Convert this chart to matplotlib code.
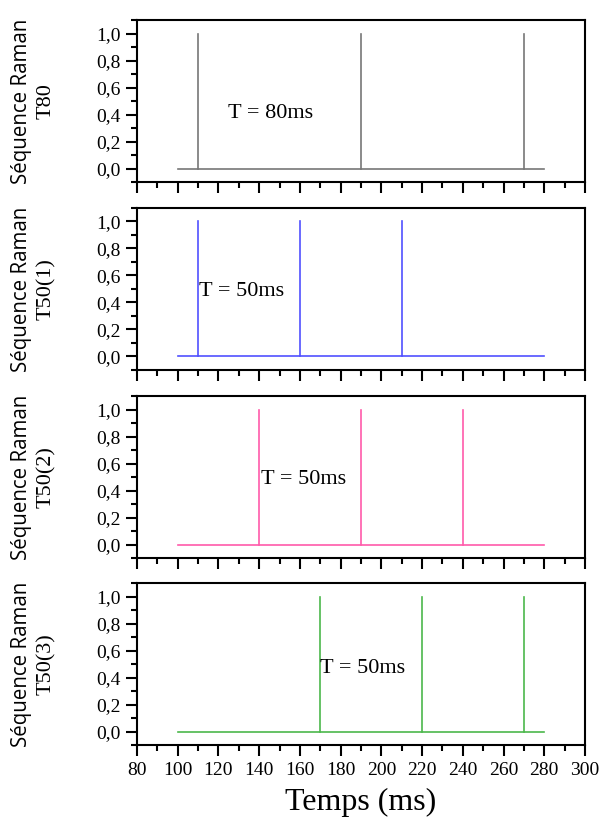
import matplotlib
matplotlib.use("Agg")
import matplotlib.pyplot as plt
from matplotlib.ticker import MultipleLocator, FuncFormatter

# data
t_start, t_end = 100, 280
labels = ["T80", "T50(1)", "T50(2)", "T50(3)"]
pulses_t80 = [110, 190, 270]
pulses_t50_1 = [110, 160, 210]
pulses_t50_2 = [140, 190, 240]
pulses_t50_3 = [170, 220, 270]
periods = ["T = 80ms", "T = 50ms", "T = 50ms", "T = 50ms"]
text_pos = [(124.5, 0.41), (110.5, 0.48), (141, 0.48), (170, 0.47)]
colors = ["#777777", "#5050ff", "#ff5aaa", "#4cb84c"]

pulses = [pulses_t80, pulses_t50_1, pulses_t50_2, pulses_t50_3]

serif = ["Liberation Serif", "DejaVu Serif"]
sans = ["Open Sans", "DejaVu Sans"]

fig = plt.figure(figsize=(6.01, 8.22), dpi=100)
left, right = 137 / 601, 585 / 601
tops = [20, 208, 396, 583]
h = 162

comma = FuncFormatter(lambda v, p: f"{v:.1f}".replace(".", ","))

for i in range(4):
    ax = fig.add_axes([left, 1 - (tops[i] + h) / 822, right - left, h / 822])
    c = colors[i]
    ax.plot([t_start, t_end], [0, 0], color=c, lw=1.2)
    for p in pulses[i]:
        ax.plot([p, p], [0, 1], color=c, lw=1.2)
    ax.text(text_pos[i][0], text_pos[i][1], periods[i], fontsize=16,
            family=serif, va="center", ha="left")
    ax.set_xlim(80, 300)
    ax.set_ylim(-0.1, 1.1)
    ax.xaxis.set_major_locator(MultipleLocator(20))
    ax.xaxis.set_minor_locator(MultipleLocator(10))
    ax.yaxis.set_minor_locator(MultipleLocator(0.1))
    ax.set_yticks([0, 0.2, 0.4, 0.6, 0.8, 1.0])
    ax.yaxis.set_major_formatter(comma)
    ax.tick_params(which="major", direction="out", length=8, width=1.5,
                   labelsize=14, top=False, right=False, pad=4)
    ax.tick_params(which="minor", direction="out", length=4.5, width=1.5,
                   top=False, right=False)
    for s in ax.spines.values():
        s.set_linewidth(1.5)
    for lab in ax.get_yticklabels() + ax.get_xticklabels():
        lab.set_family(serif)
    if i < 3:
        ax.tick_params(axis="x", labelbottom=False)
    yc = 1 - (tops[i] + h / 2) / 822
    fig.text(22 / 601, yc, "Séquence Raman", rotation=90, fontsize=14.8,
             family=sans, ha="center", va="center")
    fig.text(46 / 601, yc, labels[i], rotation=90, fontsize=16,
             family=serif, ha="center", va="center")

fig.text((left + right) / 2, 1 - 802 / 822, "Temps (ms)", fontsize=23,
         family=serif, ha="center", va="center")

fig.savefig("out.png", dpi=100)
